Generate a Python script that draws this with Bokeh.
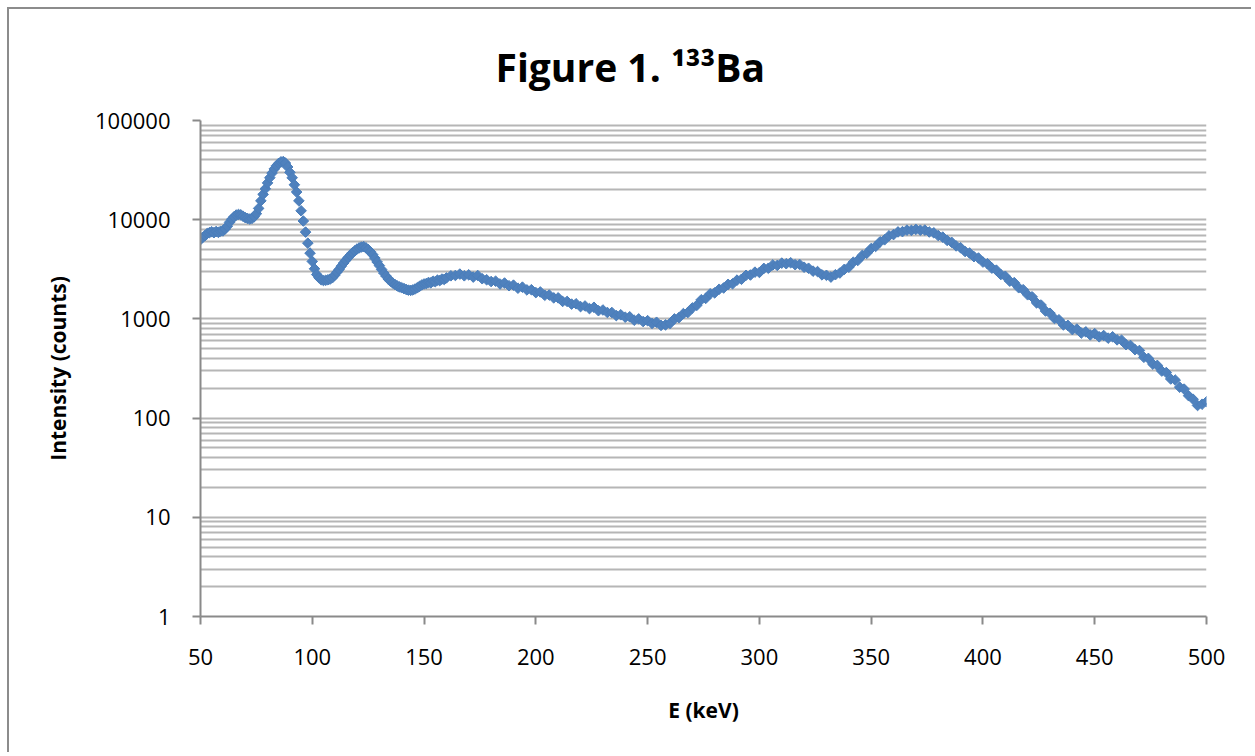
from bokeh.plotting import figure
from bokeh.models import (FixedTicker, NumeralTickFormatter, Range1d, Title)
from bokeh.embed import file_html
from bokeh.resources import INLINE

# ---- data ----
energy_low = [50, 51, 52, 53, 54, 55, 56, 57, 58, 59, 60, 61, 62, 63, 64, 65, 66, 67, 68, 69,
              70, 71, 72, 73, 74, 75, 76, 77, 78, 79, 80, 81, 82, 83, 84, 85, 86, 87, 88, 89,
              90, 91, 92, 93, 94, 95, 96, 97, 98, 99, 100, 101, 102, 103, 104, 105, 106, 107, 108, 109,
              110, 111, 112, 113, 114, 115, 116, 117, 118, 119, 120, 121, 122, 123, 124, 125, 126, 127, 128, 129,
              130, 131, 132, 133, 134, 135, 136, 137, 138, 139, 140, 141, 142, 143, 144, 145, 146, 147, 148, 149, 150]
counts_low = [6300, 6650, 6900, 7250, 7400, 7550, 7400, 7600, 7450, 7650, 7700, 8050, 8600, 9400, 10100, 10700, 11150, 11300, 11200, 10850,
              10500, 10300, 10150, 10300, 10700, 11500, 13000, 15500, 18000, 20500, 23500, 26500, 29500, 32500, 35000, 37000, 38300, 38500, 37200, 34000,
              30000, 26500, 22500, 19000, 15500, 12300, 9700, 7500, 5800, 4600, 3800, 3200, 2800, 2600, 2480, 2440, 2450, 2480, 2520, 2600,
              2750, 2950, 3150, 3400, 3650, 3900, 4150, 4400, 4650, 4850, 5050, 5200, 5300, 5350, 5200, 5000, 4750, 4450, 4100, 3750,
              3450, 3150, 2900, 2700, 2520, 2400, 2300, 2220, 2150, 2100, 2060, 2020, 1980, 1950, 1940, 1960, 2000, 2060, 2130, 2200, 2250]

energy_high = [151, 152, 153, 154, 155, 156, 157, 158, 159, 160, 162, 164, 166, 168, 170, 172, 174, 176, 178, 180, 182, 184, 186, 188, 190,
               192, 194, 196, 198, 200, 202, 204, 206, 208, 210, 212, 214, 216, 218, 220, 222, 224, 226, 228, 230,
               232, 234, 236, 238, 240, 242, 244, 246, 248, 250, 252, 254, 256, 258, 260, 262, 264, 266, 268, 270,
               272, 274, 276, 278, 280, 282, 284, 286, 288, 290, 292, 294, 296, 298, 300, 302, 304, 306, 308, 310,
               312, 314, 316, 318, 320, 322, 324, 326, 328, 330, 332, 334, 336, 338, 340, 342, 344, 346, 348, 350,
               352, 354, 356, 358, 360, 362, 364, 366, 368, 370, 372, 374, 376, 378, 380, 382, 384, 386, 388, 390,
               392, 394, 396, 398, 400, 402, 404, 406, 408, 410, 412, 414, 416, 418, 420, 422, 424, 426, 428, 430,
               432, 434, 436, 438, 440, 442, 444, 446, 448, 450, 452, 454, 456, 458, 460, 462, 464, 466, 468, 470,
               472, 474, 476, 478, 480, 482, 484, 486, 488, 490, 492, 494, 496, 498, 500]
counts_high = [2270, 2330, 2310, 2400, 2370, 2460, 2430, 2520, 2500, 2590, 2720, 2740, 2830, 2720, 2780, 2640, 2740, 2540, 2480, 2380, 2400, 2250, 2300, 2160, 2190,
               2040, 2090, 1960, 1970, 1840, 1870, 1730, 1740, 1630, 1630, 1500, 1500, 1410, 1420, 1330, 1350, 1270, 1310, 1210, 1230,
               1160, 1160, 1080, 1100, 1040, 1050, 970, 1000, 940, 960, 900, 925, 860, 870, 900, 1000, 1030, 1130, 1160, 1290,
               1370, 1560, 1610, 1790, 1830, 1990, 2050, 2230, 2260, 2460, 2510, 2750, 2770, 2960, 2940, 3230, 3240, 3500, 3460, 3650,
               3600, 3680, 3520, 3540, 3320, 3240, 3030, 3000, 2780, 2750, 2640, 2790, 2900, 3160, 3320, 3730, 3880, 4360, 4580, 5120,
               5380, 5980, 6270, 6880, 7080, 7530, 7580, 7850, 7800, 7990, 7830, 7860, 7520, 7380, 6920, 6680, 6180, 5920, 5440, 5220,
               4780, 4610, 4240, 4110, 3740, 3600, 3250, 3100, 2800, 2690, 2400, 2320, 2060, 1970, 1750, 1670, 1450, 1380, 1200, 1140,
               1010, 980, 870, 860, 780, 790, 720, 740, 690, 710, 660, 680, 640, 660, 615, 610, 550, 540, 490, 480,
               410, 400, 350, 340, 298, 288, 248, 242, 205, 196, 168, 155, 134, 138, 146]

x_ticks = [50, 100, 150, 200, 250, 300, 350, 400, 450, 500]
y_major = [1, 10, 100, 1000, 10000, 100000]
y_minor = [m * d for d in [1, 10, 100, 1000, 10000] for m in [2, 3, 4, 5, 6, 7, 8, 9]]

title_text = "Figure 1. \u00b9\u00b3\u00b3Ba"
x_label = "E (keV)"
y_label = "Intensity (counts)"

energy = energy_low + energy_high
counts = counts_low + counts_high

FONT = "Open Sans"
GRID = "#b6b6b6"
AXIS = "#8a8a8a"

p = figure(width=1244, height=745, y_axis_type="log",
           x_range=Range1d(50, 500), y_range=Range1d(1, 100000),
           output_backend="svg", toolbar_location=None,
           min_border_left=191, min_border_right=47, min_border_top=111, min_border_bottom=138)
p.styles = {"border-left": "2px solid #8c8c8c", "border-top": "2px solid #8c8c8c",
            "margin-left": "7px", "margin-top": "7px"}
p.outline_line_color = None
p.background_fill_color = "white"
p.border_fill_color = "white"

p.scatter(energy, counts, marker="square", angle=45, angle_units="deg", size=7.5,
          fill_color="#4F81BD", line_color="#4A7EBB", line_width=1)

# title (superscript mass number as Unicode superscript digits)
p.add_layout(Title(text=title_text, align="left", offset=295, standoff=55,
                   text_font=FONT, text_font_style="bold", text_font_size="39px",
                   text_color="black"), "above")

# axes
p.xaxis.ticker = FixedTicker(ticks=x_ticks)
p.yaxis.ticker = FixedTicker(ticks=y_major, minor_ticks=y_minor)
p.yaxis.formatter = NumeralTickFormatter(format="0")
for ax in (p.xaxis[0], p.yaxis[0]):
    ax.axis_line_color = AXIS
    ax.axis_line_width = 2
    ax.major_tick_line_color = AXIS
    ax.major_tick_line_width = 2
    ax.major_tick_out = 8
    ax.major_tick_in = 0
    ax.minor_tick_line_color = None
    ax.major_label_text_font = FONT
    ax.major_label_text_font_size = "22px"
    ax.major_label_text_color = "black"
    ax.axis_label_text_font = FONT
    ax.axis_label_text_font_style = "bold"
    ax.axis_label_text_font_size = "21px"
    ax.axis_label_text_color = "black"
p.xaxis.axis_label = x_label
p.yaxis.axis_label = y_label
p.xaxis.major_label_standoff = 24
p.yaxis.major_label_standoff = 22
p.xaxis.axis_label_standoff = 28
p.yaxis.axis_label_standoff = 20

# grid
p.xgrid.grid_line_color = None
p.ygrid.grid_line_color = GRID
p.ygrid.grid_line_width = 2
p.ygrid.minor_grid_line_color = GRID
p.ygrid.minor_grid_line_width = 2

open("out.html", "w").write(file_html(p, INLINE))
